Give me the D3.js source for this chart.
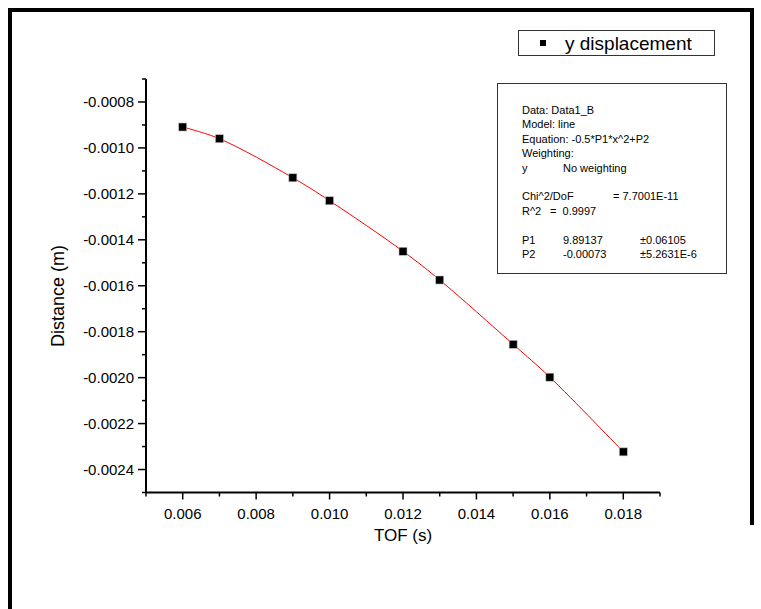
<!DOCTYPE html>
<html>
<head>
<meta charset="utf-8">
<script src="https://cdn.jsdelivr.net/npm/d3@7"></script>
<style>
  body { margin: 0; background: #fff; }
  svg { display: block; font-family: "Liberation Sans", Arial, sans-serif; }
  text { white-space: pre; }
</style>
</head>
<body>
<div id="chart"></div>
<script>
// datos
const tof = [0.006, 0.007, 0.009, 0.010, 0.012, 0.013, 0.015, 0.016, 0.018];
const distancia = [-0.000909, -0.00096, -0.00113, -0.00123, -0.00145, -0.001575, -0.001855, -0.001998, -0.002323];
const xTicks = [0.006, 0.008, 0.010, 0.012, 0.014, 0.016, 0.018];
const yTicks = [-0.0008, -0.0010, -0.0012, -0.0014, -0.0016, -0.0018, -0.0020, -0.0022, -0.0024];
const statsLines = [
    ["Data: Data1_B", "", ""],
    ["Model: line", "", ""],
    ["Equation: -0.5*P1*x^2+P2", "", ""],
    ["Weighting:", "", ""],
    ["y", "No weighting", ""],
    null,
    ["Chi^2/DoF", "", "= 7.7001E-11"],
    ["R^2", "=  0.9997", ""],
    null,
    ["P1", "9.89137", "±0.06105"],
    ["P2", "-0.00073", "±5.2631E-6"]
];

const width = 761, height = 609;
const svg = d3.select("#chart").append("svg")
    .attr("width", width)
    .attr("height", height);

// marco de la pagina
svg.append("path")
    .attr("d", "M10,609 L10,10 L752,10 L752,525")
    .attr("fill", "none")
    .attr("stroke", "#000")
    .attr("stroke-width", 4);

const x = d3.scaleLinear().domain([0.005, 0.019]).range([146, 660]);
const y = d3.scaleLinear().domain([-0.0025, -0.0007]).range([492.5, 79]);

// eje x
const gx = svg.append("g").attr("transform", "translate(0,492.5)");
gx.append("line").attr("x1", 146).attr("x2", 660).attr("stroke", "#000").attr("stroke-width", 2);
d3.range(5, 20).forEach(i => {
    const v = i / 1000;
    const major = xTicks.some(t => Math.abs(t - v) < 1e-9);
    gx.append("line")
        .attr("x1", x(v)).attr("x2", x(v))
        .attr("y1", 0).attr("y2", major ? 7 : 4)
        .attr("stroke", "#000").attr("stroke-width", 1.5);
});
gx.selectAll("text.tick")
    .data(xTicks)
    .enter().append("text")
    .attr("x", d => x(d))
    .attr("y", 26.5)
    .attr("text-anchor", "middle")
    .attr("font-size", "15px")
    .text(d => d3.format(".3f")(d));

// eje y
const gy = svg.append("g").attr("transform", "translate(146,0)");
gy.append("line").attr("y1", 79).attr("y2", 492.5).attr("stroke", "#000").attr("stroke-width", 2);
d3.range(7, 26).forEach(i => {
    const v = -i / 10000;
    const major = yTicks.some(t => Math.abs(t - v) < 1e-9);
    gy.append("line")
        .attr("y1", y(v)).attr("y2", y(v))
        .attr("x1", 0).attr("x2", major ? -8 : -4)
        .attr("stroke", "#000").attr("stroke-width", 1.5);
});
gy.selectAll("text.tick")
    .data(yTicks)
    .enter().append("text")
    .attr("x", -12)
    .attr("y", d => y(d))
    .attr("dy", "0.35em")
    .attr("text-anchor", "end")
    .attr("font-size", "15px")
    .text(d => d3.format(".4f")(d).replace("\u2212", "-"));

// titulos
svg.append("text")
    .attr("x", 403).attr("y", 541)
    .attr("text-anchor", "middle")
    .attr("font-size", "17px")
    .text("TOF (s)");
svg.append("text")
    .attr("transform", "translate(64,296) rotate(-90)")
    .attr("text-anchor", "middle")
    .attr("font-size", "18px")
    .text("Distance (m)");

// curva de ajuste
const puntos = tof.map((t, i) => [t, distancia[i]]);
svg.append("path")
    .datum(puntos)
    .attr("fill", "none")
    .attr("stroke", "#ff0000")
    .attr("stroke-width", 1)
    .attr("d", d3.line().x(d => x(d[0])).y(d => y(d[1])).curve(d3.curveCatmullRom));

// puntos
svg.selectAll("rect.pt")
    .data(puntos)
    .enter().append("rect")
    .attr("class", "pt")
    .attr("x", d => x(d[0]) - 4)
    .attr("y", d => y(d[1]) - 4)
    .attr("width", 8).attr("height", 8)
    .attr("fill", "#000")
    .attr("stroke", "#bbb")
    .attr("stroke-width", 0.6);

// leyenda
const leg = svg.append("g");
leg.append("rect")
    .attr("x", 518.5).attr("y", 30.5).attr("width", 196).attr("height", 25)
    .attr("fill", "#fff").attr("stroke", "#333").attr("stroke-width", 1);
leg.append("rect")
    .attr("x", 540).attr("y", 40).attr("width", 6).attr("height", 6)
    .attr("fill", "#000");
leg.append("text")
    .attr("x", 565).attr("y", 49.5)
    .attr("font-size", "19px")
    .text("y displacement");

// cuadro de estadisticas
const st = svg.append("g");
st.append("rect")
    .attr("x", 497.5).attr("y", 83.5).attr("width", 229).attr("height", 190)
    .attr("fill", "#fff").attr("stroke", "#333").attr("stroke-width", 1);
const colX = [522, 563, 640];
let ly = 114;
statsLines.forEach(row => {
    if (row) {
        row.forEach((txt, j) => {
            if (!txt) return;
            let cx = colX[j];
            if (row[0] === "Chi^2/DoF" && j === 2) cx = 613;
            if (row[0] === "R^2" && j === 1) cx = 550;
            st.append("text")
                .attr("x", cx).attr("y", ly)
                .attr("font-size", "11px")
                .text(txt);
        });
    }
    ly += 14.4;
});
</script>
</body>
</html>
